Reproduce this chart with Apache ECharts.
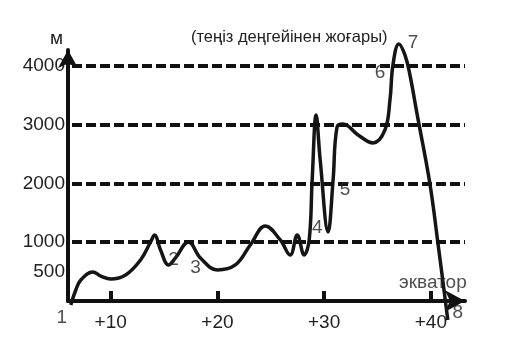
<!DOCTYPE html>
<html>
<head>
<meta charset="utf-8">
<script src="https://cdn.jsdelivr.net/npm/echarts@6/dist/echarts.min.js"></script>
<style>html,body{margin:0;padding:0;background:#fff;}#c{width:511px;height:363px;}</style>
</head>
<body>
<div id="c"></div>
<script>
// profile: [latitude, altitude m]
const profileX = [6.26, 6.73, 7.2, 8.32, 9.07, 10.0, 11.4, 12.8, 13.74, 14.11, 14.67, 15.42, 16.07, 17.29, 18.41, 20.0, 21.68, 23.08, 24.49, 25.89, 26.82, 27.48, 28.13, 28.6, 28.88, 29.25, 29.63, 30.37, 30.84, 31.21, 31.78, 33.18, 34.58, 35.7, 36.17, 36.45, 37.0, 37.57, 38.04, 38.69, 39.9, 40.65, 41.59];
const profileY = [-68, 187, 357, 494, 425, 374, 442, 698, 1004, 1123, 868, 613, 732, 1004, 732, 528, 613, 953, 1276, 1038, 783, 1123, 783, 1038, 2059, 3166, 2400, 1174, 2059, 2961, 3012, 2825, 2689, 2910, 3421, 4017, 4374, 4187, 3846, 3200, 2008, 1004, -323];
const levelLines = [1000, 2000, 3000, 4000];
const yTickLabels = [500, 1000, 2000, 3000, 4000];
const xTickLabels = [10, 20, 30, 40];
const noteText = ['1', '2', '3', '4', '5', '6', '7', '8', 'экватор'];
const noteX = [5.42, 15.89, 17.94, 29.35, 31.96, 35.23, 38.32, 42.52, 40.19];
const noteY = [-289, 698, 561, 1242, 1889, 3878, 4389, -204, 306];

const chart = echarts.init(document.getElementById('c'));
const font = 'Liberation Sans, Arial, sans-serif';
chart.setOption({
  animation: false,
  backgroundColor: '#fff',
  grid: {left: 68, right: 46, top: 50, bottom: 62, containLabel: false},
  xAxis: {
    type: 'value', min: 6, max: 43.2,
    axisLine: {show: true, lineStyle: {color: '#111', width: 4}, symbol: ['none', 'arrow'], symbolSize: [16, 20]},
    axisTick: {show: true, inside: true, length: 10, lineStyle: {color: '#111', width: 4}, customValues: xTickLabels},
    axisLabel: {show: true, margin: 12, fontSize: 19, color: '#222', fontFamily: font, customValues: xTickLabels, formatter: v => '+' + v},
    splitLine: {show: false}
  },
  yAxis: {
    type: 'value', min: 0, max: 4270,
    axisLine: {show: true, onZero: false, lineStyle: {color: '#111', width: 4}, symbol: ['none', 'arrow'], symbolSize: [15, 18]},
    axisTick: {show: false},
    axisLabel: {show: true, margin: 3, fontSize: 19, color: '#222', fontFamily: font, customValues: yTickLabels, formatter: v => String(v)},
    splitLine: {show: false}
  },
  graphic: [
    {type: 'text', left: 50, top: 29, style: {text: 'м', fontSize: 19, fill: '#222', fontFamily: font}},
    {type: 'text', left: 191, top: 29, style: {text: '(теңіз деңгейінен жоғары)', fontSize: 16.5, fill: '#222', fontFamily: font}}
  ],
  series: [
    {
      type: 'line',
      data: profileX.map((x, i) => [x, profileY[i]]),
      smooth: 0.4,
      clip: false,
      symbol: 'none',
      lineStyle: {color: '#151515', width: 3.5},
      z: 3,
      markLine: {
        silent: true,
        symbol: ['none', 'none'],
        label: {show: false},
        lineStyle: {color: '#111', width: 4, type: [10, 4], dashOffset: -4},
        data: levelLines.map(v => ({yAxis: v}))
      }
    },
    {
      type: 'scatter',
      clip: false,
      symbolSize: 1,
      itemStyle: {color: 'transparent'},
      z: 5,
      label: {show: true, position: 'inside', fontSize: 19, color: '#222', fontFamily: font, formatter: p => p.data[2]},
      data: noteX.map((x, i) => [x, noteY[i], noteText[i]])
    }
  ]
});
</script>
</body>
</html>
